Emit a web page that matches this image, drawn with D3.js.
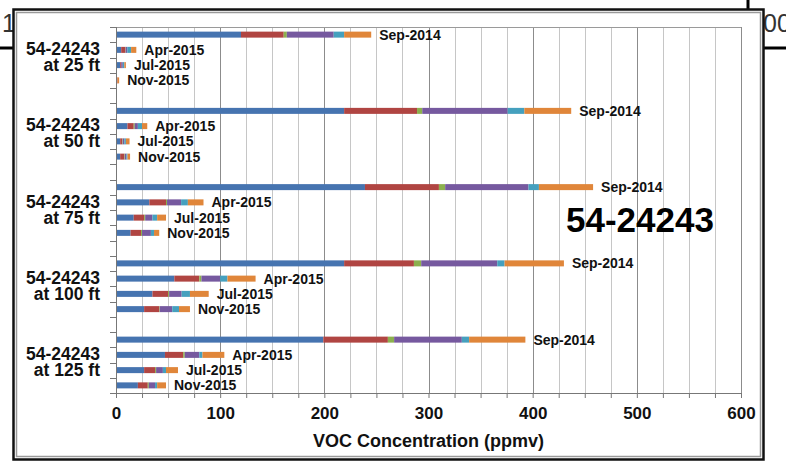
<!DOCTYPE html>
<html>
<head>
<meta charset="utf-8">
<script src="https://cdn.jsdelivr.net/npm/d3@7"></script>
<style>
  html, body { margin: 0; padding: 0; background: #fff; }
  svg { display: block; font-family: "Liberation Sans", Arial, sans-serif; }
</style>
</head>
<body>
<svg id="chart" width="786" height="467"></svg>
<script>
// ---------------- data ----------------
const wellName = "54-24243";
const depths = ["at 25 ft", "at 50 ft", "at 75 ft", "at 100 ft", "at 125 ft"];
const dates = ["Sep-2014", "Apr-2015", "Jul-2015", "Nov-2015"];
const seriesKeys = ["s1", "s2", "s3", "s4", "s5", "s6"];
const xTickValues = [0, 100, 200, 300, 400, 500, 600];
const xMinorStep = 25;
const xMax = 600;
// values per bar, ordered depth by depth, dates within depth (ppmv)
const s1 = [120, 5, 4, 0,    219, 11, 4, 4,      239, 32, 17, 14,   219, 56, 35, 27,     199, 47, 27, 21];
const s2 = [41, 4, 1, 1.5,   70, 6, 2, 4,        71, 16, 10, 10,    67, 24, 15, 14.5,    62, 17.5, 10.5, 9.5];
const s3 = [3, 0.3, 0, 0,    5, 1, 0.5, 0.5,     6, 1, 1, 1,        7, 2, 1, 0.5,        6, 1.5, 1, 1];
const s4 = [45, 1.5, 1.5, 0, 82, 3, 1.5, 1.5,    80, 13.5, 7, 8.5,  73, 18, 12, 12,      65, 14, 6.5, 6];
const s5 = [10, 3.7, 1.5, 0, 16, 4, 1.5, 1,      10, 6.5, 4.5, 3,   7, 7, 8, 6.5,        7, 3, 3, 2];
const s6 = [26, 5, 1.5, 1.5, 45, 5, 3.5, 2.5,    52, 15, 8.5, 5,    57, 27, 18, 10.5,    54, 21, 11.5, 8.5];
const colors = ["#4674B0", "#B04542", "#8CB04E", "#76599F", "#45A0BE", "#E0863A"];

// ---------------- build rows ----------------
const seriesArrays = [s1, s2, s3, s4, s5, s6];
const rows = [];
depths.forEach((dep, g) => dates.forEach((dt, d) => {
  const i = g * dates.length + d;
  const r = { id: g + "-" + d, group: g, date: dt };
  seriesKeys.forEach((k, j) => r[k] = seriesArrays[j][i]);
  rows.push(r);
}));
const slotIds = [];
depths.forEach((dep, g) => {
  dates.forEach((dt, d) => slotIds.push(g + "-" + d));
  if (g < depths.length - 1) slotIds.push(g + "-gap");
});

// ---------------- layout ----------------
const svg = d3.select("#chart");
const plot = { left: 116, right: 741, top: 27, bottom: 393 };
const x = d3.scaleLinear().domain([0, xMax]).range([plot.left, plot.right]);
const y = d3.scaleBand().domain(slotIds).range([plot.top, plot.bottom]).padding(0);
const color = d3.scaleOrdinal().domain(seriesKeys).range(colors);

// background slide remnants (behind chart box)
svg.append("text").attr("x", 2).attr("y", 32).attr("font-size", 25).attr("fill", "#333").text("1");
svg.append("text").attr("x", 763).attr("y", 32).attr("font-size", 25).attr("fill", "#333").text("00");
svg.append("line").attr("x1", 0).attr("x2", 14).attr("y1", 48).attr("y2", 48).attr("stroke", "#000").attr("stroke-width", 3);
svg.append("line").attr("x1", 762).attr("x2", 786).attr("y1", 48).attr("y2", 48).attr("stroke", "#000").attr("stroke-width", 3);
svg.append("line").attr("x1", 748).attr("x2", 748).attr("y1", 0).attr("y2", 10).attr("stroke", "#000").attr("stroke-width", 3);

// chart box
svg.append("rect").attr("x", 13.5).attr("y", 9.5).attr("width", 750).attr("height", 450)
  .attr("fill", "#fff").attr("stroke", "#111").attr("stroke-width", 2.5);
svg.append("rect").attr("x", 16.5).attr("y", 12.5).attr("width", 744).attr("height", 444)
  .attr("fill", "none").attr("stroke", "#9a9a9a").attr("stroke-width", 1.5);

// gridlines
const minorTicks = d3.range(0, xMax + 1, xMinorStep);
svg.append("g").selectAll("line").data(minorTicks).join("line")
  .attr("x1", d => Math.round(x(d)) + 0.5).attr("x2", d => Math.round(x(d)) + 0.5)
  .attr("y1", plot.top).attr("y2", plot.bottom)
  .attr("stroke", d => xTickValues.includes(d) ? "#8c8c8c" : "#c6c6c6")
  .attr("stroke-width", 1);
// plot top border
svg.append("line").attr("x1", plot.left).attr("x2", plot.right).attr("y1", plot.top + 0.5).attr("y2", plot.top + 0.5)
  .attr("stroke", "#9a9a9a");

// bars
const stacked = d3.stack().keys(seriesKeys)(rows);
const barH = 6;
svg.append("g").selectAll("g").data(stacked).join("g")
  .attr("fill", d => color(d.key))
  .selectAll("rect").data(d => d).join("rect")
  .attr("x", d => x(d[0]))
  .attr("width", d => Math.max(0, x(d[1]) - x(d[0])))
  .attr("y", d => y(d.data.id) + y.bandwidth() / 2 - barH / 2)
  .attr("height", barH);

// bar labels
svg.append("g").selectAll("text").data(rows).join("text")
  .attr("x", d => x(d3.sum(seriesKeys, k => d[k])) + 8)
  .attr("y", d => y(d.id) + y.bandwidth() / 2 + 5)
  .attr("font-size", 14).attr("font-weight", "bold").attr("fill", "#111")
  .text(d => d.date);

// y axis (category boundaries)
const yAxis = svg.append("g");
yAxis.append("line").attr("x1", plot.left + 0.5).attr("x2", plot.left + 0.5)
  .attr("y1", plot.top).attr("y2", plot.bottom).attr("stroke", "#777");
const boundaries = slotIds.map(id => y(id)).concat([plot.bottom]);
yAxis.selectAll("line.tk").data(boundaries).join("line").attr("class", "tk")
  .attr("x1", plot.left - 6).attr("x2", plot.left)
  .attr("y1", d => Math.round(d) + 0.5).attr("y2", d => Math.round(d) + 0.5)
  .attr("stroke", "#777");

// group labels
const groupLabels = svg.append("g");
depths.forEach((dep, g) => {
  const c = (y(g + "-0") + y(g + "-" + (dates.length - 1)) + y.bandwidth()) / 2;
  const t = groupLabels.append("text").attr("text-anchor", "end")
    .attr("font-size", 17.5).attr("font-weight", "bold").attr("fill", "#111");
  t.append("tspan").attr("x", 100).attr("y", c - 2.5).text(wellName);
  t.append("tspan").attr("x", 100).attr("y", c + 13.5).text(dep);
});

// x axis
const xAxis = svg.append("g").attr("transform", `translate(0,${plot.bottom})`)
  .call(d3.axisBottom(x).tickValues(minorTicks).tickSize(5)
    .tickFormat(d => xTickValues.includes(d) ? d : ""));
xAxis.select(".domain").attr("stroke", "#777");
xAxis.selectAll(".tick line").attr("stroke", "#777");
xAxis.selectAll(".tick text").attr("font-size", 17).attr("font-weight", "bold")
  .attr("fill", "#111").attr("font-family", "Liberation Sans, Arial, sans-serif").attr("dy", null).attr("y", 26);

svg.append("text").attr("x", (plot.left + plot.right) / 2).attr("y", 447)
  .attr("text-anchor", "middle").attr("font-size", 18).attr("font-weight", "bold").attr("fill", "#111")
  .text("VOC Concentration (ppmv)");

// big well title
svg.append("text").attr("x", 566).attr("y", 232)
  .attr("font-size", 35).attr("font-weight", "bold").attr("fill", "#000").text(wellName);
</script>
</body>
</html>
